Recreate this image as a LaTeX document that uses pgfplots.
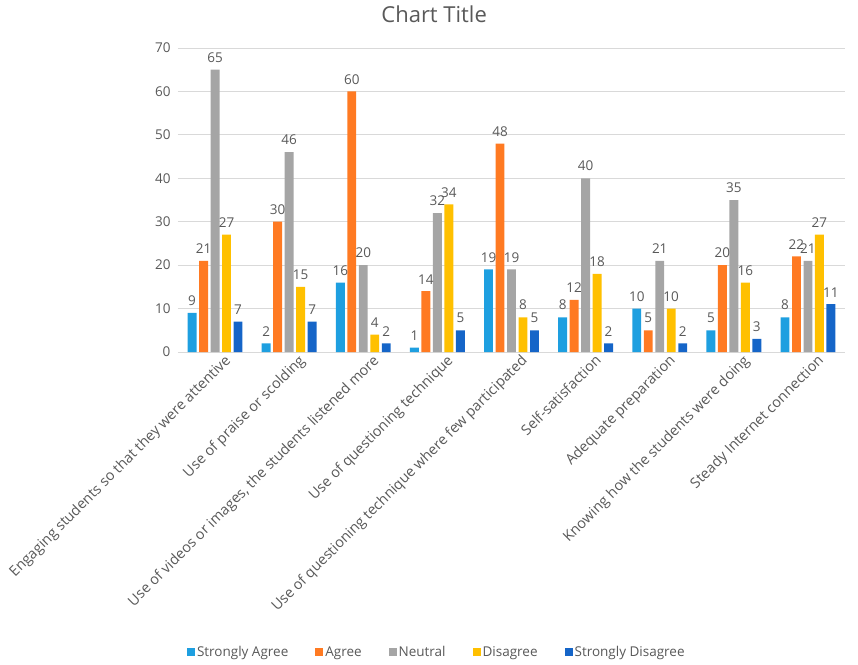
\documentclass[border=0pt]{standalone}
\usepackage{pgfplots}
\pgfplotsset{compat=1.18}
\usepackage{fontspec}
\setmainfont{Open Sans}
\definecolor{cSA}{HTML}{1E9FE0}
\definecolor{cA}{HTML}{FF7A22}
\definecolor{cN}{HTML}{A5A5A5}
\definecolor{cD}{HTML}{FFC000}
\definecolor{cSD}{HTML}{1565C8}
\definecolor{txt}{HTML}{595959}
\definecolor{gridc}{HTML}{D9D9D9}
\begin{document}
\begin{tikzpicture}
\begin{axis}[
  scale only axis,
  width=667pt, height=304pt,
  ymin=0, ymax=70, ytick={0,10,...,70},
  xmin=-0.5, xmax=8.5,
  xtick={0,...,8},
  xticklabels={Engaging students so that they were attentive,Use of praise or scolding,{Use of videos or images, the students listened more},Use of questioning technique,Use of questioning technique where few participated,Self-satisfaction,Adequate preparation,Knowing how the students were doing,Steady Internet connection},
  x tick label style={rotate=45, anchor=north east, font=\fontsize{14.4}{16}\selectfont, text=txt, inner sep=1pt, xshift=6pt, yshift=-6pt},
  y tick label style={font=\fontsize{13.5}{16}\selectfont, text=txt, xshift=-4pt},
  /pgf/number format/assume math mode=true,
  xmajorgrids=false, ymajorgrids=true,
  grid style={draw=gridc, line width=0.8pt},
  axis x line*=bottom, axis y line*=left,
  x axis line style={draw=gridc, line width=0.8pt},
  y axis line style={draw=none},
  major tick length=0pt,
  ybar, bar width=0.12,
  enlargelimits=false,
  nodes near coords,
  every node near coord/.append style={font=\fontsize{13.5}{16}\selectfont, text=txt, inner sep=7pt},
  title={Chart Title},
  title style={at={(0.384,1.09)}, anchor=center, font=\fontsize{22}{24}\selectfont, text=txt},
  legend style={at={(0.388,-0.987)}, anchor=center, draw=none, font=\fontsize{13.5}{16}\selectfont, text=txt, legend columns=-1, /tikz/every even column/.append style={column sep=25pt}},
  legend image code/.code={\fill[#1] (0pt,-4pt) rectangle (8pt,4pt);},
  clip=false,
]
\addplot[fill=cSA, draw=none, bar shift=-0.31] coordinates {(0,9) (1,2) (2,16) (3,1) (4,19) (5,8) (6,10) (7,5) (8,8)};
\addplot[fill=cA, draw=none, bar shift=-0.155] coordinates {(0,21) (1,30) (2,60) (3,14) (4,48) (5,12) (6,5) (7,20) (8,22)};
\addplot[fill=cN, draw=none, bar shift=0] coordinates {(0,65) (1,46) (2,20) (3,32) (4,19) (5,40) (6,21) (7,35) (8,21)};
\addplot[fill=cD, draw=none, bar shift=0.155] coordinates {(0,27) (1,15) (2,4) (3,34) (4,8) (5,18) (6,10) (7,16) (8,27)};
\addplot[fill=cSD, draw=none, bar shift=0.31] coordinates {(0,7) (1,7) (2,2) (3,5) (4,5) (5,2) (6,2) (7,3) (8,11)};
\legend{Strongly Agree,Agree,Neutral,Disagree,Strongly Disagree}
\end{axis}
\pgfresetboundingbox
\path (current axis.south west) ++(-178pt,-312pt) coordinate (bbA);
\path (current axis.north east) ++(13pt,48pt) coordinate (bbB);
\path (bbA) rectangle (bbB);
\end{tikzpicture}
\end{document}
